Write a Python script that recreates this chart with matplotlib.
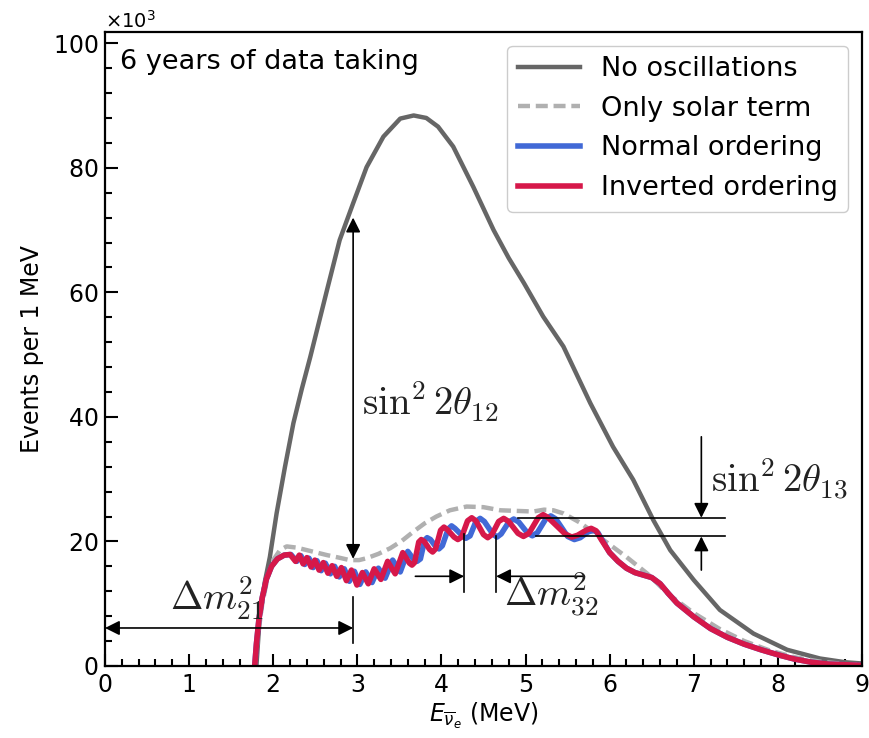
import matplotlib

matplotlib.use("Agg")
import matplotlib.pyplot as plt
from matplotlib.ticker import MultipleLocator
import numpy as np

# events per 1 MeV, in thousands
no_osc_E = [1.80, 1.84, 1.90, 1.96, 2.04, 2.14, 2.24, 2.34, 2.44, 2.54, 2.64, 2.79, 2.95,
            3.11, 3.31, 3.51, 3.67, 3.82, 3.96, 4.14, 4.38, 4.62, 4.80, 4.98, 5.21, 5.45,
            5.77, 6.04, 6.28, 6.52, 6.72, 7.00, 7.31, 7.71, 8.11, 8.50, 8.80, 9.00]
no_osc_N = [0.0, 8.0, 13.5, 17.5, 24.5, 32.0, 39.0, 44.5, 49.6, 55.0, 60.4, 68.4, 74.3,
            80.1, 85.0, 87.9, 88.4, 88.0, 86.6, 83.4, 76.9, 70.0, 65.5, 61.5, 56.1, 51.3,
            42.2, 35.2, 29.9, 23.4, 18.6, 13.8, 9.0, 5.2, 2.6, 1.2, 0.6, 0.4]

solar_E = [1.78, 1.82, 1.87, 1.93, 2.00, 2.08, 2.16, 2.28, 2.40, 2.52, 2.64, 2.78, 2.91,
           3.02, 3.11, 3.25, 3.39, 3.53, 3.67, 3.80, 3.94, 4.10, 4.30, 4.50, 4.70, 4.90,
           5.09, 5.22, 5.33, 5.45, 5.65, 5.93, 6.20, 6.45, 6.70, 7.00, 7.30, 7.60, 7.90,
           8.20, 8.50, 8.80, 9.00]
solar_N = [0.0, 5.0, 10.0, 14.0, 17.0, 18.6, 19.2, 19.0, 18.6, 18.2, 17.8, 17.4, 17.0,
           17.0, 17.3, 18.0, 18.9, 20.1, 21.6, 22.9, 24.0, 25.0, 25.6, 25.5, 25.0, 24.9,
           24.8, 25.1, 25.0, 24.5, 23.0, 20.2, 17.5, 14.8, 11.5, 8.5, 6.0, 4.0, 2.5,
           1.4, 0.7, 0.3, 0.2]

tail_E = [5.90, 6.00, 6.10, 6.20, 6.30, 6.40, 6.50, 6.60, 6.70, 6.80, 6.90, 7.00, 7.20,
          7.40, 7.60, 7.80, 8.00, 8.20, 8.40, 8.60, 8.80, 9.00]
tail_N = [20.3, 18.2, 16.8, 15.7, 15.0, 14.6, 14.2, 13.2, 11.6, 10.1, 9.0, 7.9, 6.0,
          4.6, 3.5, 2.6, 1.8, 1.1, 0.6, 0.3, 0.2, 0.1]

io_E = [1.78, 1.80, 1.83, 1.87, 1.92, 1.98, 2.05, 2.13, 2.20, 2.265, 2.31, 2.355, 2.40,
        2.45, 2.495, 2.545, 2.595, 2.65, 2.70, 2.755, 2.81, 2.87, 2.93, 2.995, 3.06, 3.13,
        3.20, 3.28, 3.36, 3.45, 3.54, 3.62, 3.65, 3.68, 3.73, 3.76, 3.795, 3.86, 3.895,
        3.93, 3.99, 4.03, 4.07, 4.15, 4.195, 4.24, 4.31, 4.36, 4.41, 4.50, 4.55, 4.60,
        4.68, 4.74, 4.80, 4.91, 4.975, 5.04, 5.15, 5.21, 5.27, 5.47, 5.55, 5.62, 5.72,
        5.78, 5.84] + tail_E
io_N = [0.0, 3.5, 7.5, 11.0, 14.0, 16.0, 17.2, 17.8, 17.9, 16.8, 17.8, 16.4, 17.4,
        15.9, 17.0, 15.4, 16.6, 14.9, 16.1, 14.4, 15.8, 13.7, 15.4, 13.0, 15.0, 13.2,
        15.6, 13.9, 16.8, 14.8, 18.2, 16.5, 16.2, 16.6, 19.9, 20.3, 20.0, 18.7, 18.3,
        18.8, 21.8, 22.3, 21.9, 20.7, 20.3, 20.7, 23.3, 23.8, 23.3, 21.1, 20.6, 21.1,
        23.2, 23.7, 23.2, 21.3, 20.8, 21.3, 23.8, 24.3, 23.8, 21.2, 20.7, 21.0, 21.8,
        22.1, 21.7] + tail_N

no_E = [1.78, 1.80, 1.83, 1.87, 1.92, 1.98, 2.05, 2.13, 2.21, 2.28, 2.33, 2.375, 2.425,
        2.475, 2.52, 2.57, 2.62, 2.68, 2.73, 2.785, 2.845, 2.905, 2.965, 3.03, 3.10, 3.175,
        3.25, 3.33, 3.42, 3.51, 3.60, 3.67, 3.71, 3.75, 3.80, 3.83, 3.87, 3.93, 3.97,
        4.01, 4.08, 4.12, 4.16, 4.25, 4.29, 4.34, 4.41, 4.46, 4.51, 4.61, 4.66, 4.71,
        4.80, 4.86, 4.92, 5.02, 5.08, 5.14, 5.24, 5.30, 5.36, 5.50, 5.58, 5.65, 5.74,
        5.80, 5.86] + tail_E[1:]
no_N = [0.0, 3.5, 7.5, 11.0, 14.0, 16.0, 17.2, 17.8, 17.9, 16.8, 17.7, 16.3, 17.3,
        15.8, 16.9, 15.3, 16.5, 14.8, 16.0, 14.3, 15.6, 13.6, 15.2, 13.1, 15.1, 13.4,
        15.7, 14.1, 17.0, 15.1, 18.4, 17.1, 16.8, 17.2, 20.2, 20.6, 20.3, 19.2, 18.8,
        19.3, 22.0, 22.5, 22.1, 20.9, 20.5, 20.9, 23.2, 23.7, 23.2, 21.2, 20.7, 21.2,
        23.1, 23.6, 23.1, 21.4, 20.9, 21.4, 23.6, 24.1, 23.6, 20.8, 20.3, 20.6, 21.5,
        21.8, 21.4] + tail_N[1:]

C_NOOSC = "#666666"
C_SOLAR = "#b0b0b0"
C_NO = "#4169d6"
C_IO = "#d6184a"

fig = plt.figure(figsize=(8.7, 7.38), dpi=100)
ax = fig.add_axes([0.1207, 0.0976, 0.8701, 0.859])

k = 1e3
ax.plot(np.array(no_osc_E), np.array(no_osc_N) * k, color=C_NOOSC, lw=3.2, label="No oscillations")
ax.plot(np.array(solar_E), np.array(solar_N) * k, color=C_SOLAR, lw=3.2, dashes=(2.7, 1.3),
        label="Only solar term")
ax.plot(np.array(no_E), np.array(no_N) * k, color=C_NO, lw=4, label="Normal ordering")
ax.plot(np.array(io_E), np.array(io_N) * k, color=C_IO, lw=4, label="Inverted ordering")

ax.set_xlim(0, 9)
ax.set_ylim(0, 101.8e3)
ax.xaxis.set_major_locator(MultipleLocator(1))
ax.xaxis.set_minor_locator(MultipleLocator(0.2))
ax.yaxis.set_major_locator(MultipleLocator(20e3))
ax.yaxis.set_minor_locator(MultipleLocator(4e3))
ax.ticklabel_format(axis="y", style="sci", scilimits=(3, 3), useMathText=True)
ax.yaxis.get_offset_text().set_fontsize(14)
ax.tick_params(which="both", direction="in", width=1.5, labelsize=17, pad=5)
ax.tick_params(which="major", length=9)
ax.tick_params(which="minor", length=5)
for s in ax.spines.values():
    s.set_linewidth(1.6)

ax.set_xlabel(r"$E_{\overline{\nu}_e}$ (MeV)", fontsize=17, labelpad=3)
ax.set_ylabel("Events per 1 MeV", fontsize=17, labelpad=6)

ax.text(0.18, 97e3, "6 years of data taking", fontsize=19.5, ha="left", va="center")

ax.legend(loc="upper right", fontsize=19.5, handlelength=2.3, labelspacing=0.5,
          handletextpad=0.75, framealpha=1, edgecolor="0.8", borderaxespad=0.5)

# annotations
arr = dict(arrowstyle="-|>", color="black", lw=1.2, mutation_scale=22, shrinkA=0, shrinkB=0)
arr2 = dict(arr, arrowstyle="<|-|>")
mt = dict(math_fontfamily="cm", color="#222222", fontsize=28)

# sin^2 2theta12
ax.annotate("", xy=(2.95, 72e3), xytext=(2.95, 17.2e3), arrowprops=arr2)
ax.text(3.05, 42.5e3, r"$\sin^2 2\theta_{12}$", ha="left", va="center", **mt)

# delta m^2_21
ax.annotate("", xy=(0.0, 6.1e3), xytext=(2.95, 6.1e3), arrowprops=arr2)
ax.plot([2.95, 2.95], [3.7e3, 11.1e3], color="black", lw=1.2)
ax.text(1.33, 10.9e3, r"$\Delta m^2_{21}$", ha="center", va="center", **mt)

# sin^2 2theta13
ax.plot([4.91, 7.37], [23.8e3, 23.8e3], color="black", lw=1.2)
ax.plot([5.13, 7.37], [20.8e3, 20.8e3], color="black", lw=1.2)
ax.annotate("", xy=(7.09, 23.8e3), xytext=(7.09, 36.8e3), arrowprops=arr)
ax.annotate("", xy=(7.09, 20.8e3), xytext=(7.09, 15.4e3), arrowprops=arr)
ax.text(7.2, 29.9e3, r"$\sin^2 2\theta_{13}$", ha="left", va="center", **mt)

# delta m^2_32
ax.plot([4.27, 4.27], [11.9e3, 21.2e3], color="black", lw=1.2)
ax.plot([4.65, 4.65], [11.9e3, 20.8e3], color="black", lw=1.2)
ax.annotate("", xy=(4.27, 14.4e3), xytext=(3.69, 14.4e3), arrowprops=arr)
ax.annotate("", xy=(4.65, 14.4e3), xytext=(5.70, 14.4e3), arrowprops=arr)
ax.text(5.3, 11.5e3, r"$\Delta m^2_{32}$", ha="center", va="center", **mt)

fig.savefig("out.png", dpi=100)
